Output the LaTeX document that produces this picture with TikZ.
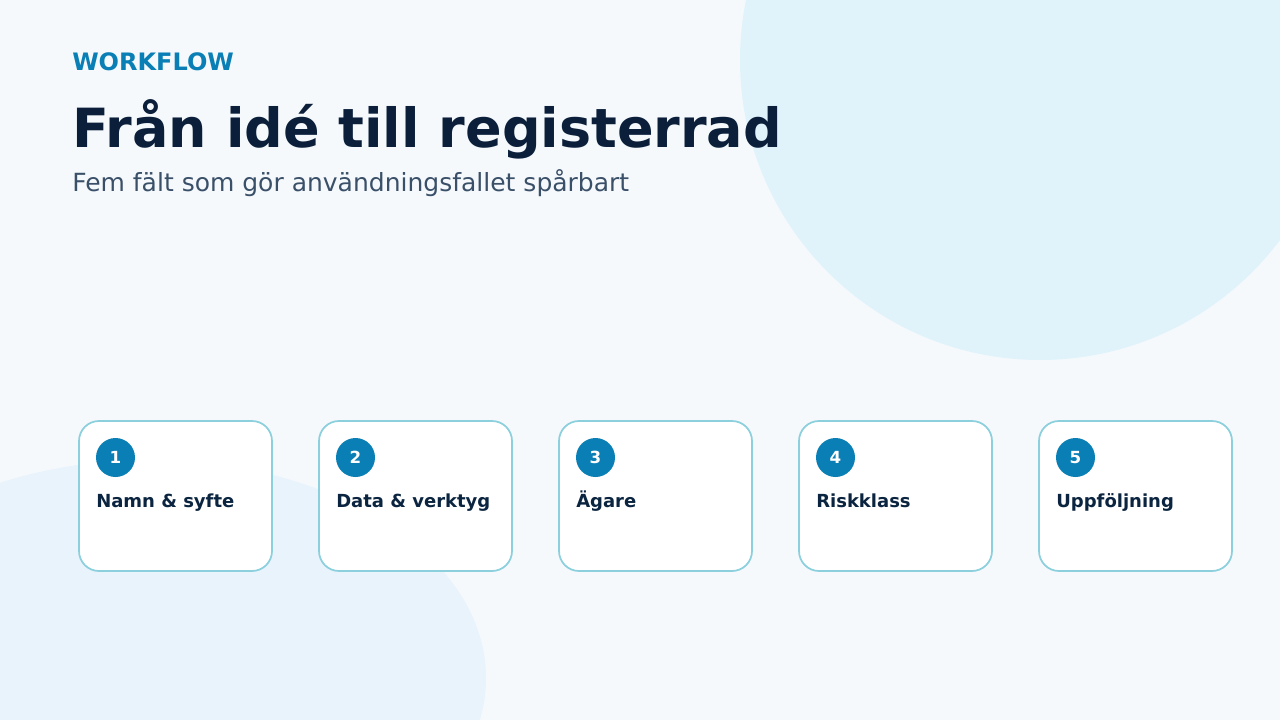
\documentclass[tikz,border=0pt]{standalone}
\usepackage{fontspec}
\setmainfont{DejaVu Sans}
\definecolor{bgc}{HTML}{F5F9FC}
\definecolor{blobA}{HTML}{E0F3FB}
\definecolor{blobB}{HTML}{E8F3FC}
\definecolor{accent}{HTML}{0A7FB5}
\definecolor{navy}{HTML}{0B1F3A}
\definecolor{subc}{HTML}{3A5068}
\definecolor{cardline}{HTML}{8CCFDD}
\definecolor{cardtext}{HTML}{0B2540}
\tikzset{
  card/.style={draw=cardline, line width=1.3pt, fill=white, rounded corners=15pt},
  numdot/.style={circle, fill=accent, minimum size=29.25pt, inner sep=0pt, text=white, font=\bfseries\fontsize{12.5}{14}\selectfont},
  cardlabel/.style={anchor=base west, inner sep=0pt, text=cardtext, font=\bfseries\fontsize{13.5}{16}\selectfont},
}
\begin{document}
\begin{tikzpicture}[x=0.75pt, y=-0.75pt]
\useasboundingbox (0,0) rectangle (1280,720);
\fill[bgc] (0,0) rectangle (1280,720);
\begin{scope}
\clip (0,0) rectangle (1280,720);
\fill[blobA] (1040,60) circle [radius=300];
\fill[blobB] (150,678) ellipse [x radius=336, y radius=218];
\end{scope}
\node[anchor=base west, inner sep=0pt, text=accent, font=\bfseries\fontsize{18}{20}\selectfont] (kicker) at (72,71) {WORKFLOW};
\node[anchor=base west, inner sep=0pt, text=navy, font=\bfseries\fontsize{40.5}{46}\selectfont] (title) at (72,148) {Från idé till registerrad};
\node[anchor=base west, inner sep=0pt, text=subc, font=\fontsize{18.75}{22}\selectfont] (sub) at (72,192) {Fem fält som gör användningsfallet spårbart};
\foreach \i/\lab in {1/Namn \& syfte, 2/Data \& verktyg, 3/Ägare, 4/Riskklass, 5/Uppföljning} {
  \pgfmathsetmacro{\xo}{79+240*(\i-1)}
  \draw[card] (\xo,421) rectangle ++(193,150);
  \node[numdot] (n\i) at (\xo+36.5,457.5) {\i};
  \node[cardlabel] (l\i) at (\xo+17,507) {\lab};
}
\end{tikzpicture}
\end{document}
